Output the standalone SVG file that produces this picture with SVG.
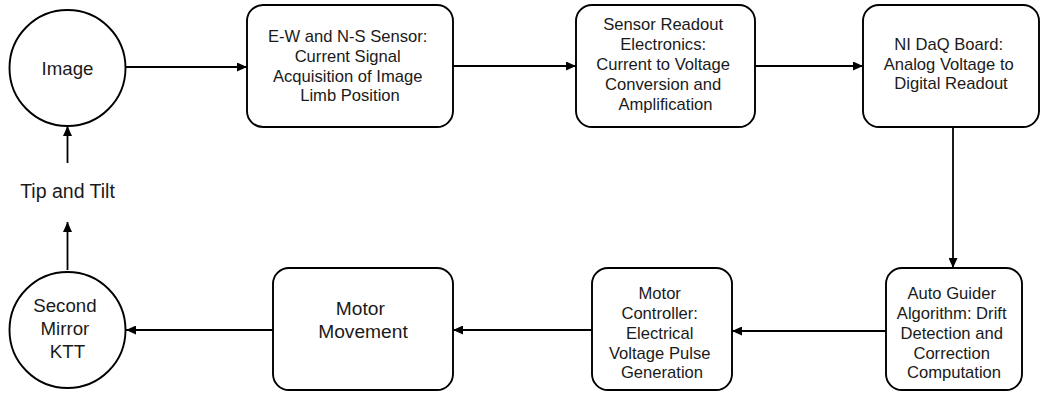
<svg xmlns="http://www.w3.org/2000/svg" width="1041" height="393" viewBox="0 0 1041 393">
  <style>
    .shape { fill: #ffffff; stroke: #000000; stroke-width: 1.9; }
    .edge { fill: none; stroke: #000000; stroke-width: 1.8; }
    text { font-family: "Liberation Sans", Arial, sans-serif; fill: #1a1a1a; text-anchor: middle; }
    .box { font-size: 16.6px; }
    .big { font-size: 18.7px; }
  </style>
  <defs>
    <marker id="arrow" markerUnits="userSpaceOnUse" markerWidth="11" markerHeight="9" refX="10" refY="4.5" orient="auto">
      <path d="M0,0 L10,4.5 L0,9 Z" fill="#000000"/>
    </marker>
  </defs>
  <rect width="1041" height="393" fill="#ffffff"/>

  <!-- connectors -->
  <g id="connectors">
    <line class="edge" x1="126" y1="67" x2="247" y2="67" marker-end="url(#arrow)"/>
    <line class="edge" x1="453" y1="66" x2="576" y2="66" marker-end="url(#arrow)"/>
    <line class="edge" x1="755" y1="66" x2="863" y2="66" marker-end="url(#arrow)"/>
    <line class="edge" x1="953" y1="127" x2="953" y2="268" marker-end="url(#arrow)"/>
    <line class="edge" x1="886" y1="331" x2="732" y2="331" marker-end="url(#arrow)"/>
    <line class="edge" x1="592" y1="330" x2="453" y2="330" marker-end="url(#arrow)"/>
    <line class="edge" x1="273" y1="330" x2="126" y2="330" marker-end="url(#arrow)"/>
    <line class="edge" x1="67.5" y1="270" x2="67.5" y2="222" marker-end="url(#arrow)"/>
    <line class="edge" x1="67.5" y1="163" x2="67.5" y2="126" marker-end="url(#arrow)"/>
  </g>

  <!-- Image -->
  <g id="image">
    <circle class="shape" cx="67.5" cy="68" r="58"/>
    <text class="big" x="67.5" y="75">Image</text>
  </g>

  <!-- Tip and Tilt label -->
  <g id="tip-tilt">
    <text class="big" x="67.5" y="198" style="font-size:19.5px">Tip and Tilt</text>
  </g>

  <!-- E-W and N-S Sensor -->
  <g id="sensor">
    <rect class="shape" x="247" y="5" width="206" height="122" rx="16"/>
    <text class="box" x="350">
      <tspan x="350" y="42">E-W and N-S Sensor:</tspan>
      <tspan x="350" y="61.5">Current Signal</tspan>
      <tspan x="350" y="81.5">Acquisition of Image</tspan>
      <tspan x="350" y="101">Limb Position</tspan>
    </text>
  </g>

  <!-- Sensor Readout Electronics -->
  <g id="readout">
    <rect class="shape" x="576" y="5" width="179" height="122" rx="16"/>
    <text class="box" x="665.5">
      <tspan x="665.5" y="29.5">Sensor Readout</tspan>
      <tspan x="665.5" y="49.5">Electronics:</tspan>
      <tspan x="665.5" y="69.5">Current to Voltage</tspan>
      <tspan x="665.5" y="89.5">Conversion and</tspan>
      <tspan x="665.5" y="109.5">Amplification</tspan>
    </text>
  </g>

  <!-- NI DaQ Board -->
  <g id="daq">
    <rect class="shape" x="863" y="5" width="176" height="122" rx="16"/>
    <text class="box" x="951">
      <tspan x="951" y="50">NI DaQ Board:</tspan>
      <tspan x="951" y="69.5">Analog Voltage to</tspan>
      <tspan x="951" y="89">Digital Readout</tspan>
    </text>
  </g>

  <!-- Auto Guider Algorithm -->
  <g id="autoguider">
    <rect class="shape" x="886" y="268" width="136" height="122" rx="16"/>
    <text class="box" x="954">
      <tspan x="954" y="299">Auto Guider</tspan>
      <tspan x="954" y="319">Algorithm: Drift</tspan>
      <tspan x="954" y="339">Detection and</tspan>
      <tspan x="954" y="358.5">Correction</tspan>
      <tspan x="954" y="378">Computation</tspan>
    </text>
  </g>

  <!-- Motor Controller -->
  <g id="controller">
    <rect class="shape" x="592" y="268" width="140" height="122" rx="16"/>
    <text class="box" x="662">
      <tspan x="662" y="299">Motor</tspan>
      <tspan x="662" y="319">Controller:</tspan>
      <tspan x="662" y="339">Electrical</tspan>
      <tspan x="662" y="358.5">Voltage Pulse</tspan>
      <tspan x="662" y="378">Generation</tspan>
    </text>
  </g>

  <!-- Motor Movement -->
  <g id="movement">
    <rect class="shape" x="273" y="268" width="180" height="122" rx="16"/>
    <text class="big" x="363" style="font-size:19.2px">
      <tspan x="363" y="315">Motor</tspan>
      <tspan x="363" y="338">Movement</tspan>
    </text>
  </g>

  <!-- Second Mirror KTT -->
  <g id="mirror">
    <circle class="shape" cx="67.5" cy="330" r="58"/>
    <text class="big">
      <tspan x="67.5" y="312">Second</tspan>
      <tspan x="67.5" y="335">Mirror</tspan>
      <tspan x="67.5" y="358">KTT</tspan>
    </text>
  </g>
</svg>
